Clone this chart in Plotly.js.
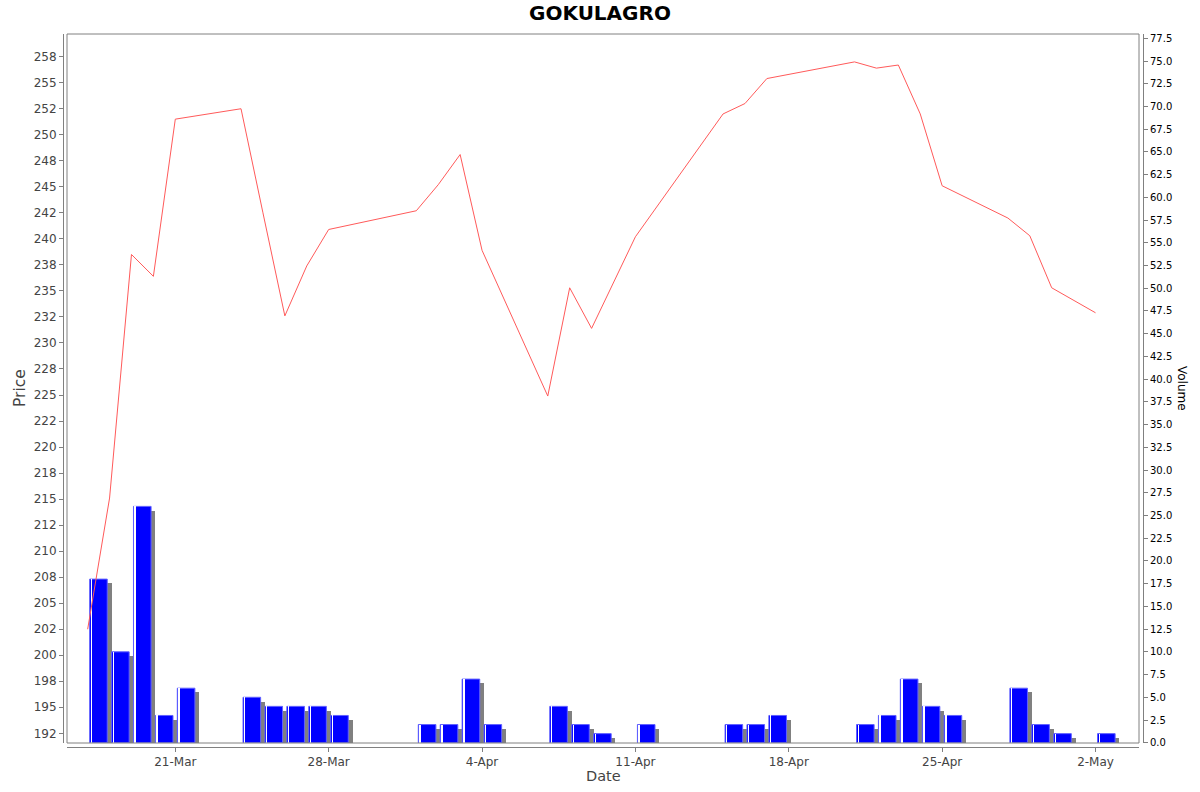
<!DOCTYPE html>
<html>
<head>
<meta charset="utf-8">
<script src="https://cdn.plot.ly/plotly-3.0.1.min.js"></script>
<style>
  html, body { margin: 0; padding: 0; background: #ffffff; }
  #chart { width: 1200px; height: 792px; }
</style>
</head>
<body>
<div id="chart"></div>
<script>
// ---- data ----
const chartTitle = 'GOKULAGRO';
const dates = ['2025-03-17','2025-03-18','2025-03-19','2025-03-20','2025-03-21',
               '2025-03-24','2025-03-25','2025-03-26','2025-03-27','2025-03-28',
               '2025-04-01','2025-04-02','2025-04-03','2025-04-04',
               '2025-04-07','2025-04-08','2025-04-09','2025-04-11',
               '2025-04-15','2025-04-16','2025-04-17',
               '2025-04-21','2025-04-22','2025-04-23','2025-04-24','2025-04-25',
               '2025-04-28','2025-04-29','2025-04-30','2025-05-02'];
const prices = [202.5, 215.1, 238.5, 236.4, 251.5,
                252.5, 242.5, 232.6, 237.4, 240.9,
                242.7, 245.2, 248.1, 238.9,
                224.9, 235.3, 231.4, 240.2,
                252.0, 253.0, 255.4,
                257.0, 256.4, 256.7, 252.0, 245.1,
                242.0, 240.3, 235.3, 232.9];
const volumes = [18, 10, 26, 3, 6,
                 5, 4, 4, 4, 3,
                 2, 2, 7, 2,
                 4, 2, 1, 2,
                 2, 2, 3,
                 2, 3, 7, 4, 3,
                 6, 2, 1, 1];
const priceTickVals = [192.5,195,197.5,200,202.5,205,207.5,210,212.5,215,217.5,220,222.5,225,227.5,230,232.5,235,237.5,240,242.5,245,247.5,250,252.5,255,257.5];
const priceTickText = ['192','195','198','200','202','205','208','210','212','215','218','220','222','225','228','230','232','235','238','240','242','245','248','250','252','255','258'];

// ---- layout geometry ----
const W = 1200, H = 792;
const mL = 63, mR = 57, mT = 34, mB = 45;
const pw = W - mL - mR, ph = H - mT - mB;
const xd0 = 4 / pw, xd1 = 1 - 4 / pw, yd0 = 4 / ph;
const DAY = 864e5;
const PX = DAY / 21.91;   // ms per pixel on the x axis
const FONT = 'DejaVu Sans, Verdana, sans-serif';

const shadow = {
  type: 'bar', x: dates, y: volumes, base: -0.47, yaxis: 'y',
  offset: 6.3 * PX, width: 17.6 * PX,
  marker: { color: '#808080', line: { width: 0 } },
  hoverinfo: 'skip', showlegend: false
};
const bars = {
  type: 'bar', x: dates, y: volumes, yaxis: 'y',
  offset: 2.0 * PX, width: 17.6 * PX,
  marker: { color: '#0000ff', line: { width: 1, color: '#6060ff' } },
  showlegend: false
};
const stripe = {
  type: 'bar', x: dates, y: volumes, yaxis: 'y',
  offset: 3.0 * PX, width: 1.4 * PX,
  marker: { color: '#ffffff', line: { width: 0 } },
  hoverinfo: 'skip', showlegend: false
};
const priceLine = {
  type: 'scatter', mode: 'lines', x: dates, y: prices, yaxis: 'y2',
  line: { color: '#ff5a5a', width: 1 },
  showlegend: false
};

const x0 = new Date('2025-03-21T00:00:00Z').getTime() - (175.3 - 67) * PX;
const x1 = new Date('2025-03-21T00:00:00Z').getTime() + (1139 - 175.3) * PX;

const layout = {
  width: W, height: H,
  margin: { l: mL, r: mR, t: mT, b: mB, pad: 0 },
  paper_bgcolor: '#ffffff', plot_bgcolor: '#ffffff',
  font: { family: FONT, size: 12, color: '#444444' },
  barmode: 'overlay',
  bargap: 0,
  title: { text: '<b>' + chartTitle + '</b>', x: 0.5, xref: 'container', xanchor: 'center',
           y: 1 - 13 / H, yref: 'container', yanchor: 'middle',
           font: { family: FONT, size: 20, color: '#000000' } },
  xaxis: {
    type: 'date', domain: [xd0, xd1], anchor: 'free', position: 0,
    range: [new Date(x0).toISOString(), new Date(x1).toISOString()],
    tick0: '2025-03-21', dtick: 7 * DAY, tickformat: '%-d-%b',
    showline: true, linecolor: '#808080', linewidth: 1,
    ticks: 'outside', ticklen: 4, tickcolor: '#808080',
    showgrid: false, zeroline: false,
    tickfont: { family: FONT, size: 12, color: '#444444' }
  },
  yaxis: {
    domain: [yd0, 1], side: 'right', anchor: 'free', position: 1,
    range: [-0.03, 77.97], tick0: 0, dtick: 2.5, tickformat: '.1f',
    showline: true, linecolor: '#808080', linewidth: 1,
    ticks: 'outside', ticklen: 4, tickcolor: '#808080',
    showgrid: false, zeroline: false,
    tickfont: { family: FONT, size: 10, color: '#000000' }
  },
  yaxis2: {
    overlaying: 'y', side: 'left', anchor: 'free', position: 0,
    range: [191.57, 259.68],
    tickmode: 'array', tickvals: priceTickVals, ticktext: priceTickText,
    showline: true, linecolor: '#808080', linewidth: 1,
    ticks: 'outside', ticklen: 4, tickcolor: '#808080',
    showgrid: false, zeroline: false,
    tickfont: { family: FONT, size: 12, color: '#444444' }
  },
  shapes: [{
    type: 'rect', xref: 'paper', yref: 'paper', x0: xd0, x1: xd1, y0: yd0, y1: 1,
    line: { color: '#808080', width: 1 }, fillcolor: 'rgba(0,0,0,0)', layer: 'above'
  }],
  annotations: [
    { text: 'Price', xref: 'paper', yref: 'paper', x: (20 - mL) / pw, y: (H - mB - 388) / ph,
      xanchor: 'center', yanchor: 'middle', textangle: -90, showarrow: false,
      font: { family: FONT, size: 15.5, color: '#444444' } },
    { text: 'Date', xref: 'paper', yref: 'paper', x: (603 - mL) / pw, y: (H - mB - 776) / ph,
      xanchor: 'center', yanchor: 'middle', showarrow: false,
      font: { family: FONT, size: 14.5, color: '#444444' } },
    { text: 'Volume', xref: 'paper', yref: 'paper', x: (1182 - mL) / pw, y: (H - mB - 388) / ph,
      xanchor: 'center', yanchor: 'middle', textangle: 90, showarrow: false,
      font: { family: FONT, size: 12, color: '#000000' } }
  ]
};

Plotly.newPlot('chart', [shadow, bars, stripe, priceLine], layout, { staticPlot: true, displayModeBar: false });
</script>
</body>
</html>
